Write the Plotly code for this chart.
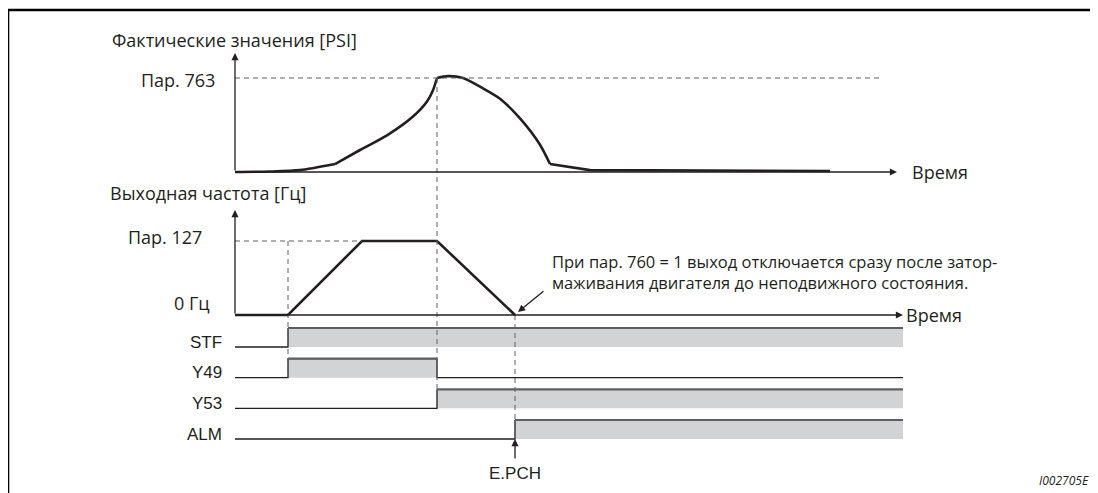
import plotly.graph_objects as go

# ---------------- data (time in arbitrary units, t = 0 at the diagram origin) ----------------
psi_time = [0, 3.5, 6.5, 10.0, 12.5, 15.2, 17.8, 19.2, 19.8, 20.2, 21.3, 22.8, 24.8, 26.5,
            28.5, 30.5, 31.5, 35.5, 59.5]
psi_value = [0, 0.005, 0.02, 0.085, 0.234, 0.39, 0.59, 0.75, 0.87, 1.0, 1.02, 1.0, 0.89, 0.78,
             0.57, 0.29, 0.085, 0.02, 0.01]          # fraction of Pr. 763
psi_corners = [3, 9, 16]                              # indices where the curve has a kink

freq_time = [0, 5.3, 12.7, 20.2, 28.0]
freq_value = [0, 0, 1, 1, 0]                          # fraction of Pr. 127

signal_names = ["STF", "Y49", "Y53", "ALM"]
signal_on = [5.3, 5.3, 20.2, 28.0]
signal_off = [None, 20.2, None, None]                 # None = stays on
signal_end = 66.8

time_axis_end_psi = 66.2
time_axis_end_freq = 66.8
psi_ref_end = 64.7

psi_axis_title = "Фактические значения [PSI]"
freq_axis_title = "Выходная частота [Гц]"
psi_ref_label = "Пар. 763"
freq_ref_label = "Пар. 127"
freq_zero_label = "0 Гц"
time_label = "Время"
note_lines = ["При пар. 760 = 1 выход отключается сразу после затор-",
              "маживания двигателя до неподвижного состояния."]
alarm_label = "E.PCH"
doc_id = "I002705E"

# ---------------- layout geometry ----------------
OFF = 8                      # page body margin of the html page
W, H = 1098 - OFF, 493 - OFF
INK = "#231f20"
DASH = dict(color="#606060", width=1, dash="5px,4px")
FONT_M = "Open Sans"
FONT_A = "Liberation Sans, Arial"

X_RANGE = [(0 + OFF - 235) / 10, (W + OFF - 235) / 10]


def y_range(v0, p0, v1, p1):
    p0 -= OFF
    p1 -= OFF
    k = (v1 - v0) / (p1 - p0)
    return [v0 + (H - p0) * k, v0 + (0 - p0) * k]


SIG_PX = 30.67
R_PSI = y_range(0, 172, 1, 78)
R_FRQ = y_range(0, 315, 1, 241)
R_SIG = y_range(0, 347, 1, 347 - SIG_PX)
SIG_HIGH = 0.62


def to_px(v, r):
    return H * (1 - (v - r[0]) / (r[1] - r[0])) + OFF


def from_px(p, r):
    return r[0] + (1 - (p - OFF) / H) * (r[1] - r[0])


def conv(v, ra, rb):
    return from_px(to_px(v, ra), rb)


def px_x(p):
    return (p - OFF) / W


def px_y(p):
    return 1 - (p - OFF) / H


fig = go.Figure()

# actual value curve, smooth pieces joined at the kinks
bounds = [0] + psi_corners + [len(psi_time) - 1]
for k in range(len(bounds) - 1):
    a, b = bounds[k], bounds[k + 1]
    smooth = k < len(bounds) - 2
    fig.add_trace(go.Scatter(x=psi_time[a:b + 1], y=psi_value[a:b + 1], yaxis="y", mode="lines",
                             line=dict(color=INK, width=2.6,
                                       shape="spline" if smooth else "linear", smoothing=0.7),
                             hoverinfo="skip"))
# output frequency
fig.add_trace(go.Scatter(x=freq_time, y=freq_value, yaxis="y2", mode="lines",
                         line=dict(color=INK, width=2.6), hoverinfo="skip"))

# signals
for i, name in enumerate(signal_names):
    low = -i
    high = low + SIG_HIGH
    on = signal_on[i]
    off = signal_off[i] if signal_off[i] is not None else signal_end
    fig.add_trace(go.Scatter(x=[on, off, off, on, on], y=[low, low, high, high, low],
                             yaxis="y3", mode="lines", fill="toself",
                             fillcolor="#d1d3d4", line=dict(width=0), hoverinfo="skip"))
    xs = [0, on, on]
    ys = [low, low, high]
    if signal_off[i] is not None:
        xs += [off, off, signal_end]
        ys += [high, low, low]
    fig.add_trace(go.Scatter(x=xs, y=ys, yaxis="y3", mode="lines",
                             line=dict(color=INK, width=1.3), hoverinfo="skip"))
    fig.add_trace(go.Scatter(x=[on, off], y=[high, high], yaxis="y3", mode="lines",
                             line=dict(color="#5f6062", width=2.2), hoverinfo="skip"))
    fig.add_annotation(x=-1.1, y=low + 5 / SIG_PX, xref="x", yref="y3", text=name,
                       showarrow=False, xanchor="right", yanchor="middle",
                       font=dict(family=FONT_A, size=17, color=INK))

shapes = []
# reference dashed lines
shapes.append(dict(type="line", xref="x", yref="y", x0=0, x1=psi_ref_end, y0=1, y1=1, line=DASH))
shapes.append(dict(type="line", xref="x", yref="y2", x0=0, x1=freq_time[2], y0=1, y1=1, line=DASH))
# vertical dashed guides
shapes.append(dict(type="line", xref="x", yref="y3", x0=signal_on[0], x1=signal_on[0],
                   y0=conv(1, R_FRQ, R_SIG), y1=-1, line=DASH))
shapes.append(dict(type="line", xref="x", yref="y3", x0=signal_on[2], x1=signal_on[2],
                   y0=conv(1, R_PSI, R_SIG), y1=-2, line=DASH))
shapes.append(dict(type="line", xref="x", yref="y3", x0=signal_on[3], x1=signal_on[3],
                   y0=conv(0, R_FRQ, R_SIG), y1=-3, line=DASH))
# frame
shapes.append(dict(type="line", xref="paper", yref="paper", x0=px_x(8), x1=1, y0=px_y(10),
                   y1=px_y(10), line=dict(color="black", width=2.6)))
shapes.append(dict(type="line", xref="paper", yref="paper", x0=px_x(8), x1=px_x(8), y0=0,
                   y1=px_y(10), line=dict(color="black", width=2.6)))


def arrow(x, y, ax, ay, yref):
    fig.add_annotation(x=x, y=y, ax=ax, ay=ay, xref="x", yref=yref, axref="x", ayref=yref,
                       text="", showarrow=True, arrowhead=2, arrowsize=1.1, arrowwidth=1.3,
                       arrowcolor=INK, standoff=0, startstandoff=0)


arrow(0, from_px(53, R_PSI), 0, 0, "y")
arrow(time_axis_end_psi, 0, 0, 0, "y")
arrow(0, from_px(210, R_FRQ), 0, 0, "y2")
arrow(time_axis_end_freq, 0, 0, 0, "y2")
# note arrow
arrow(28.3, from_px(312, R_FRQ), 31.0, from_px(290, R_FRQ), "y2")
# E.PCH arrow
arrow(signal_on[3], -3, signal_on[3], from_px(460, R_SIG), "y3")


def label(text, x, y, yref, xanchor, size=18, family=FONT_M, xref="x", align="left"):
    fig.add_annotation(x=x, y=y, xref=xref, yref=yref, text=text, showarrow=False,
                       xanchor=xanchor, yanchor="middle", align=align,
                       font=dict(family=family, size=size, color=INK))


label(psi_axis_title, px_x(110), from_px(40, R_PSI), "y", "left", xref="paper")
label(freq_axis_title, px_x(108), from_px(193, R_FRQ), "y2", "left", xref="paper")
label(psi_ref_label, -1.8, from_px(80, R_PSI), "y", "right")
label(freq_ref_label, -3.1, from_px(237, R_FRQ), "y2", "right")
label(freq_zero_label, -2.3, from_px(303, R_FRQ), "y2", "right")
label(time_label, time_axis_end_psi + 1.3, 0, "y", "left")
label(time_label, time_axis_end_freq + 0.1, 0, "y2", "left")
label("<br>".join(note_lines), 31.5, from_px(272, R_FRQ), "y2", "left", size=16.5)
label(alarm_label, signal_on[3], from_px(473, R_SIG), "y3", "center", size=17, family=FONT_A)
label("<i>" + doc_id + "</i>", px_x(1091), px_y(480), "paper", "right", size=12, xref="paper")

fig.update_layout(
    width=W, height=H, margin=dict(l=0, r=0, t=0, b=0),
    paper_bgcolor="white", plot_bgcolor="white", showlegend=False,
    xaxis=dict(range=X_RANGE, visible=False, fixedrange=True),
    yaxis=dict(range=R_PSI, visible=False, fixedrange=True),
    yaxis2=dict(range=R_FRQ, visible=False, overlaying="y", fixedrange=True),
    yaxis3=dict(range=R_SIG, visible=False, overlaying="y", fixedrange=True),
    shapes=shapes,
)

fig.write_html("out.html")
